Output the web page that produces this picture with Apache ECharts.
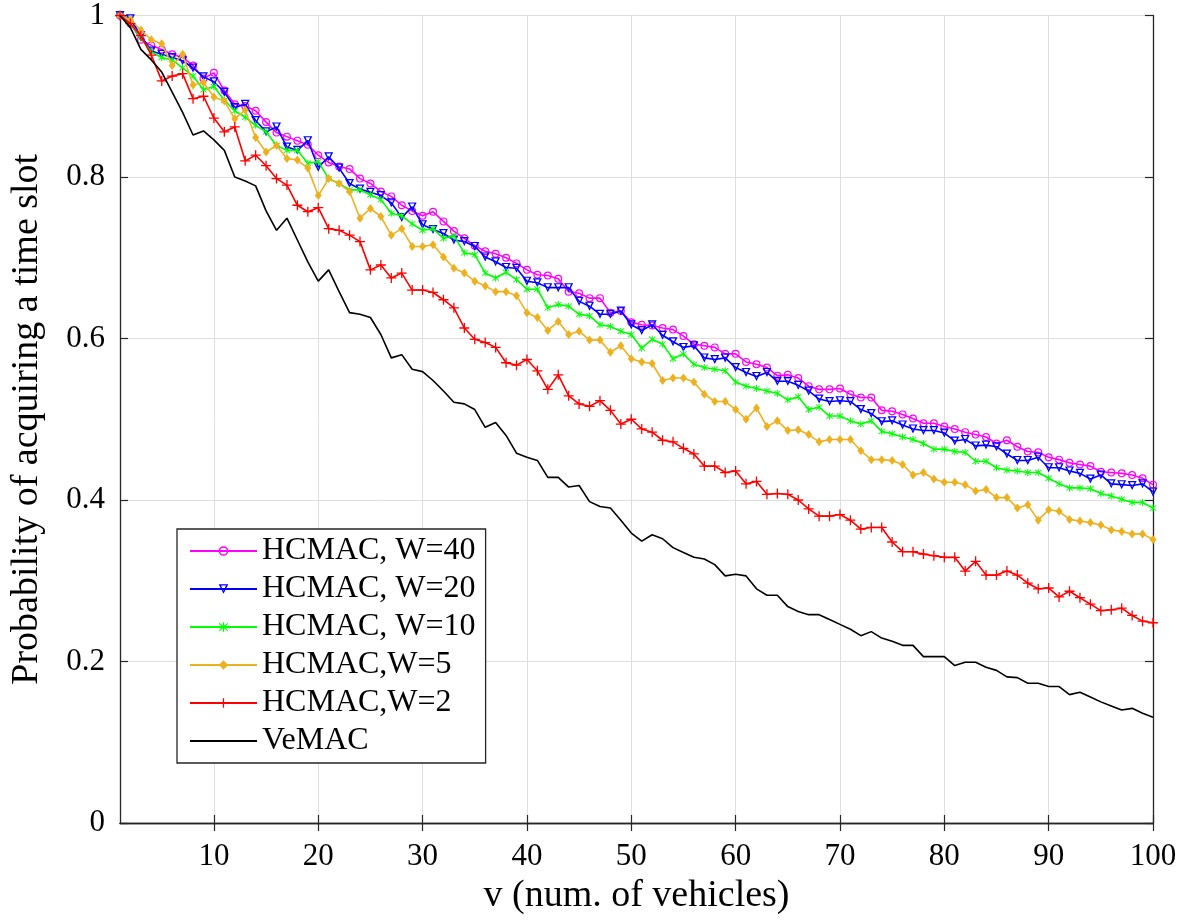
<!DOCTYPE html>
<html>
<head>
<meta charset="utf-8">
<script src="https://cdn.jsdelivr.net/npm/echarts@6/dist/echarts.min.js"></script>
<style>
html,body{margin:0;padding:0;background:#fff;}
#chart{width:1181px;height:924px;}
</style>
</head>
<body>
<div id="chart"></div>
<script>
// x categories: number of vehicles
const vehicles = [1,2,3,4,5,6,7,8,9,10,11,12,13,14,15,16,17,18,19,20,
21,22,23,24,25,26,27,28,29,30,31,32,33,34,35,36,37,38,39,40,
41,42,43,44,45,46,47,48,49,50,51,52,53,54,55,56,57,58,59,60,
61,62,63,64,65,66,67,68,69,70,71,72,73,74,75,76,77,78,79,80,
81,82,83,84,85,86,87,88,89,90,91,92,93,94,95,96,97,98,99,100];

const yTicks = [0, 0.2, 0.4, 0.6, 0.8, 1];

const hcmacW40 = [1.000,0.990,0.970,0.963,0.958,0.952,0.948,0.938,0.922,0.929,
0.907,0.890,0.888,0.882,0.868,0.855,0.850,0.845,0.840,0.827,
0.818,0.813,0.810,0.798,0.792,0.782,0.776,0.765,0.758,0.752,
0.757,0.745,0.733,0.724,0.715,0.708,0.705,0.700,0.693,0.685,
0.679,0.678,0.674,0.658,0.656,0.650,0.650,0.632,0.634,0.620,
0.617,0.616,0.613,0.611,0.603,0.593,0.591,0.589,0.581,0.581,
0.571,0.568,0.564,0.554,0.555,0.551,0.541,0.537,0.537,0.538,
0.531,0.527,0.527,0.511,0.510,0.506,0.501,0.495,0.495,0.491,
0.488,0.484,0.481,0.478,0.470,0.474,0.466,0.460,0.459,0.453,
0.450,0.446,0.444,0.442,0.435,0.434,0.433,0.431,0.427,0.419];

const hcmacW20 = [1.000,0.996,0.975,0.956,0.952,0.948,0.944,0.935,0.924,0.918,
0.905,0.886,0.890,0.870,0.856,0.862,0.837,0.833,0.845,0.812,
0.825,0.811,0.792,0.785,0.781,0.777,0.768,0.750,0.763,0.741,
0.735,0.730,0.722,0.720,0.714,0.701,0.695,0.688,0.687,0.671,
0.669,0.663,0.663,0.663,0.646,0.640,0.630,0.630,0.634,0.617,
0.610,0.617,0.604,0.596,0.589,0.591,0.576,0.574,0.576,0.564,
0.558,0.553,0.558,0.547,0.547,0.542,0.535,0.525,0.522,0.523,
0.522,0.512,0.507,0.497,0.498,0.493,0.488,0.486,0.486,0.483,
0.473,0.475,0.467,0.468,0.466,0.457,0.449,0.449,0.453,0.440,
0.440,0.436,0.433,0.426,0.431,0.420,0.419,0.418,0.420,0.410];

const hcmacW10 = [1.000,0.990,0.972,0.955,0.948,0.945,0.935,0.925,0.908,0.912,
0.895,0.882,0.874,0.864,0.856,0.839,0.833,0.833,0.817,0.819,
0.798,0.792,0.784,0.784,0.778,0.772,0.755,0.752,0.742,0.734,
0.736,0.724,0.727,0.706,0.704,0.681,0.675,0.682,0.673,0.661,
0.661,0.638,0.642,0.640,0.630,0.628,0.617,0.615,0.609,0.605,
0.588,0.599,0.593,0.575,0.581,0.568,0.564,0.562,0.560,0.546,
0.541,0.538,0.535,0.532,0.524,0.528,0.512,0.515,0.504,0.504,
0.498,0.494,0.498,0.485,0.482,0.478,0.475,0.470,0.463,0.463,
0.460,0.459,0.448,0.448,0.440,0.437,0.436,0.434,0.434,0.427,
0.420,0.415,0.415,0.414,0.408,0.405,0.401,0.397,0.397,0.390];

const hcmacW5 = [1.000,0.995,0.982,0.970,0.965,0.938,0.952,0.914,0.917,0.899,
0.894,0.872,0.883,0.849,0.831,0.839,0.823,0.821,0.811,0.777,
0.798,0.792,0.782,0.749,0.761,0.751,0.728,0.736,0.714,0.714,
0.716,0.701,0.687,0.681,0.671,0.665,0.658,0.658,0.653,0.632,
0.626,0.610,0.621,0.605,0.609,0.598,0.598,0.583,0.591,0.575,
0.571,0.569,0.548,0.551,0.551,0.546,0.531,0.522,0.522,0.512,
0.500,0.514,0.491,0.498,0.486,0.487,0.481,0.472,0.475,0.475,
0.475,0.461,0.450,0.450,0.449,0.444,0.431,0.434,0.426,0.422,
0.422,0.419,0.411,0.413,0.403,0.403,0.390,0.394,0.375,0.388,
0.386,0.376,0.374,0.372,0.369,0.363,0.361,0.358,0.358,0.351];

const hcmacW2 = [1.000,0.990,0.975,0.951,0.919,0.925,0.928,0.897,0.900,0.873,
0.856,0.862,0.820,0.827,0.814,0.798,0.790,0.765,0.757,0.762,
0.736,0.734,0.728,0.720,0.685,0.691,0.675,0.681,0.660,0.660,
0.657,0.648,0.638,0.613,0.599,0.595,0.589,0.570,0.567,0.574,
0.560,0.537,0.555,0.529,0.519,0.516,0.523,0.511,0.494,0.500,
0.488,0.484,0.474,0.472,0.464,0.457,0.442,0.442,0.434,0.436,
0.420,0.423,0.407,0.408,0.407,0.400,0.389,0.380,0.380,0.382,
0.375,0.364,0.366,0.366,0.348,0.336,0.336,0.333,0.331,0.329,
0.329,0.312,0.324,0.307,0.307,0.312,0.307,0.297,0.290,0.291,
0.280,0.287,0.279,0.271,0.263,0.264,0.266,0.257,0.250,0.248];

const vemac = [1.000,0.985,0.958,0.945,0.930,0.905,0.880,0.852,0.857,0.846,
0.833,0.800,0.795,0.789,0.758,0.734,0.749,0.722,0.695,0.671,
0.685,0.658,0.632,0.630,0.626,0.605,0.576,0.580,0.562,0.559,
0.548,0.535,0.521,0.519,0.512,0.490,0.496,0.480,0.458,0.453,
0.449,0.428,0.428,0.416,0.418,0.398,0.392,0.390,0.375,0.359,
0.349,0.357,0.352,0.341,0.335,0.329,0.327,0.320,0.306,0.308,
0.306,0.290,0.282,0.282,0.268,0.262,0.258,0.258,0.252,0.246,
0.240,0.232,0.237,0.229,0.225,0.220,0.220,0.206,0.206,0.206,
0.195,0.199,0.199,0.193,0.189,0.181,0.180,0.173,0.173,0.169,
0.169,0.159,0.162,0.156,0.150,0.145,0.140,0.142,0.136,0.131];

const seriesNames = ['HCMAC, W=40','HCMAC, W=20','HCMAC, W=10','HCMAC,W=5','HCMAC,W=2','VeMAC'];

const FONT = "'Liberation Serif','Times New Roman',serif";
const AX = '#262626';
const GRID = '#dedede';

const RING = 'path://M5 0A5 5 0 1 1 5 10A5 5 0 1 1 5 0ZM5 1.5A3.5 3.5 0 1 0 5 8.5A3.5 3.5 0 1 0 5 1.5Z';
const TRI_DOWN = 'path://M0 0L10 0L5 10ZM2.4 1.3L5 7.0L7.6 1.3Z';
const STAR = 'path://M4.4 0H5.6V10H4.4ZM0.8 1.6L1.6 0.8L9.2 8.4L8.4 9.2ZM8.4 0.8L9.2 1.6L1.6 9.2L0.8 8.4Z';
const PLUS = 'path://M4.35 0H5.65V4.35H10V5.65H5.65V10H4.35V5.65H0V4.35H4.35Z';

const isTen = (i, v) => Number(v) % 10 === 0;

function mk(name, data, color, symbol, size, z) {
  return {
    name: name, type: 'line', data: data,
    xAxisIndex: 0, yAxisIndex: 0,
    symbol: symbol, symbolSize: size,
    showSymbol: symbol !== 'none', showAllSymbol: true,
    lineStyle: {color: color, width: 1.6},
    itemStyle: {color: color},
    emphasis: {disabled: true},
    z: z, animation: false
  };
}

const chart = echarts.init(document.getElementById('chart'), null, {renderer: 'canvas'});

const xCommon = {
  type: 'category', data: vehicles, boundaryGap: false,
  axisLine: {show: true, lineStyle: {color: AX, width: 1.3}},
  axisTick: {show: true, inside: true, length: 8, interval: isTen, lineStyle: {color: AX, width: 1.2}}
};
const yCommon = {
  type: 'value', min: 0, max: 1, interval: 0.2,
  axisLine: {show: true, lineStyle: {color: AX, width: 1.3}},
  axisTick: {show: true, inside: true, length: 8, lineStyle: {color: AX, width: 1.2}}
};

const legendData = seriesNames.map(function (n) {
  if (n === 'VeMAC') {
    return {name: n, itemStyle: {color: 'rgba(0,0,0,0)', borderColor: 'rgba(0,0,0,0)', borderWidth: 0}};
  }
  return n;
});

chart.setOption({
  animation: false,
  backgroundColor: '#ffffff',
  grid: {left: 118, right: 28, top: 11, bottom: 101, containLabel: false},
  xAxis: [
    Object.assign({}, xCommon, {
      position: 'bottom',
      name: 'v (num. of vehicles)', nameLocation: 'middle', nameGap: 45,
      nameTextStyle: {fontFamily: FONT, fontSize: 38, color: '#000'},
      axisLabel: {show: true, interval: isTen, margin: 18, fontFamily: FONT, fontSize: 31, color: '#000'},
      splitLine: {show: true, interval: isTen, lineStyle: {color: GRID, width: 1}}
    }),
    Object.assign({}, xCommon, {
      position: 'top',
      axisLabel: {show: false},
      splitLine: {show: false}
    })
  ],
  yAxis: [
    Object.assign({}, yCommon, {
      position: 'left',
      name: 'Probability of acquiring a time slot', nameLocation: 'middle', nameGap: 74, nameRotate: 90,
      nameTextStyle: {fontFamily: FONT, fontSize: 38, color: '#000'},
      axisLabel: {show: true, margin: 15, fontFamily: FONT, fontSize: 31, color: '#000',
        customValues: yTicks},
      splitLine: {show: true, lineStyle: {color: GRID, width: 1}}
    }),
    Object.assign({}, yCommon, {
      position: 'right',
      axisLabel: {show: false},
      splitLine: {show: false}
    })
  ],
  legend: {
    show: true, orient: 'vertical', left: 177, top: 529,
    data: legendData,
    selectedMode: false,
    backgroundColor: '#ffffff',
    borderColor: '#262626', borderWidth: 1.3, borderRadius: 0,
    padding: [6, 10, 6, 12],
    itemWidth: 67, itemHeight: 12, itemGap: 6,
    textStyle: {fontFamily: FONT, fontSize: 32, lineHeight: 32, color: '#000'}
  },
  series: [
    mk(seriesNames[0], hcmacW40, '#ff00ff', RING, 8, 2),
    mk(seriesNames[1], hcmacW20, '#0000ff', TRI_DOWN, 9, 3),
    mk(seriesNames[2], hcmacW10, '#00ff00', STAR, 7, 4),
    mk(seriesNames[3], hcmacW5, '#EDB120', 'diamond', [7, 9], 5),
    mk(seriesNames[4], hcmacW2, '#ff0000', PLUS, 10, 6),
    mk(seriesNames[5], vemac, '#000000', 'none', 0, 7)
  ]
});
</script>
</body>
</html>
